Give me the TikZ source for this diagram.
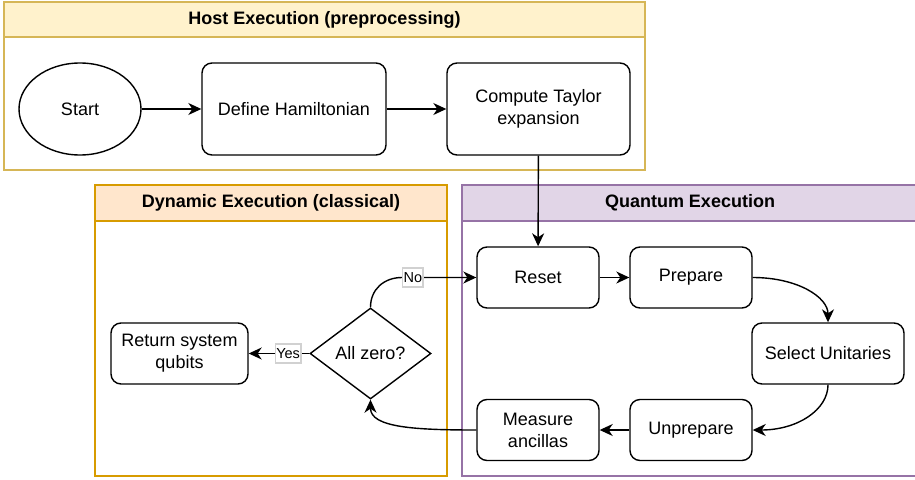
\documentclass[tikz,border=0pt]{standalone}
\usepackage{fontspec}
\setmainfont{Liberation Sans}
\usetikzlibrary{arrows.meta}
\usetikzlibrary{shapes.geometric}

\definecolor{hostfill}{HTML}{FFF2CC}
\definecolor{hostline}{HTML}{D6B656}
\definecolor{dynfill}{HTML}{FFE6CC}
\definecolor{dynline}{HTML}{D79B00}
\definecolor{qfill}{HTML}{E1D5E7}
\definecolor{qline}{HTML}{9673A6}

\tikzset{
  frame/.style={draw, line width=1.2pt, fill=white, inner sep=0pt},
  hdr/.style={draw, line width=1.2pt, inner sep=0pt, font=\bfseries\fontsize{18}{22}\selectfont},
  proc/.style={draw, line width=1.4pt, rounded corners=10pt, align=center, inner sep=0pt, minimum height=61pt},
  lbl/.style={draw=black!18, fill=white, inner sep=1pt, minimum height=19pt, font=\fontsize{14.5}{17}\selectfont},
}

\begin{document}
\begin{tikzpicture}[x=1pt,y=1pt,>/.tip={Stealth[length=13pt,width=12pt,inset=4pt]},
  font=\fontsize{18}{22}\selectfont, line width=1.4pt]
	\useasboundingbox (0,0) rectangle (915,-479);
	\clip (0,0) rectangle (915,-479);
	% containers
	\draw (324.5,-86) node (host) [frame, draw=hostline, minimum width=641pt, minimum height=168pt] {};
	\draw (324.5,-19.5) node (hosthdr) [hdr, fill=hostfill, draw=hostline, minimum width=641pt, minimum height=35pt] {Host Execution (preprocessing)};
	\draw (271,-330.5) node (dyn) [frame, draw=dynline, minimum width=352pt, minimum height=291pt] {};
	\draw (271,-203) node (dynhdr) [hdr, fill=dynfill, draw=dynline, minimum width=352pt, minimum height=36pt] {Dynamic Execution (classical)};
	\draw (690,-330.5) node (quant) [frame, draw=qline, minimum width=456pt, minimum height=291pt] {};
	\draw (690,-203) node (quanthdr) [hdr, fill=qfill, draw=qline, minimum width=456pt, minimum height=36pt] {Quantum Execution};

	% host steps
	\draw (80,-109) node (start) [draw, shape=ellipse, line width=1.4pt, minimum width=122pt, minimum height=92pt, inner sep=0pt] {Start};
	\draw (294,-109) node (hamil) [proc, minimum width=184pt, minimum height=92pt] {Define Hamiltonian};
	\draw (538.5,-109) node (taylor) [proc, minimum width=183pt, minimum height=92pt] {Compute Taylor\\expansion};

	% quantum steps
	\draw (538,-277.5) node (reset) [proc, minimum width=122pt] {Reset};
	\draw (691,-277.5) node (prep) [proc, minimum width=122pt] {Prepare};
	\draw (828,-353.5) node (select) [proc, minimum width=152pt] {Select Unitaries};
	\draw (691,-430) node (unprep) [proc, minimum width=122pt] {Unprepare};
	\draw (538,-430) node (measure) [proc, minimum width=122pt] {Measure\\ancillas};

	% classical steps
	\draw (370.5,-353.5) node (zero) [draw, shape=diamond, aspect=1.33, line width=1.4pt, inner sep=0pt, minimum width=121pt, minimum height=91pt] {All zero?};
	\draw (179.5,-353.5) node (ret) [proc, minimum width=137pt] {Return system\\qubits};
	\coordinate (nojoin) at (402,-277.5);

	\draw[->] (start) -- (hamil);
	\draw[->] (hamil) -- (taylor);
	\draw[->] (taylor) -- (reset);
	\draw[->] (reset) -- (prep);
	\draw[->] (prep.east) to[out=0,in=90,out distance=45pt,in distance=25pt] (select.north);
	\draw[->] (select.south) to[out=270,in=0,out distance=25pt,in distance=45pt] (unprep.east);
	\draw[->] (unprep) -- (measure);
	\draw[->] (measure.west) to[out=180,in=270,out distance=60pt,in distance=28pt] (zero.south);
	\draw[->] (zero.north) to[out=90,in=180,out distance=18pt,in distance=18pt] (nojoin) -- node[lbl, pos=0.147] {No} (reset.west);
	\draw[->] (zero.west) -- node[lbl, pos=0.35] {Yes} (ret.east);
\end{tikzpicture}
\end{document}
